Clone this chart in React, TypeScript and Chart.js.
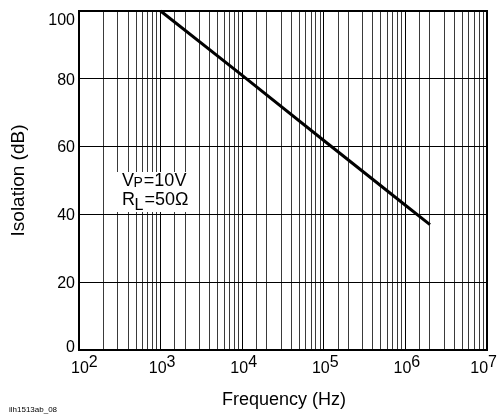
import React, { useEffect, useRef } from "react";
import { Chart, registerables } from "chart.js";

Chart.register(...registerables);

// ---- data ----
const frequencyHz = [1e3, 1e4, 1e5, 1e6, 2e6];
const isolationDb = [100, 81, 61.8, 42.7, 37];
const yTickValues = [0, 20, 40, 60, 80, 100];
const xDecadeExponents = [2, 3, 4, 5, 6, 7];
const xAxisTitle = "Frequency (Hz)";
const yAxisTitle = "Isolation (dB)";
const figureId = "ilh1513ab_08";
const annotationLine1 = { main: "V", sub: "P", rest: "=10V" };
const annotationLine2 = { main: "R", sub: "L", rest: "=50Ω" };

const FONT = '"Liberation Sans", Arial, Helvetica, sans-serif';

const decoratePlugin = {
  id: "decorate",
  beforeDatasetsDraw(chart: any) {
    const { ctx, chartArea } = chart;
    ctx.save();
    // white backing box behind the annotation
    ctx.fillStyle = "#fff";
    ctx.fillRect(chartArea.left + 38, 172, 79, 40);
    ctx.strokeStyle = "#000";
    ctx.lineWidth = 2;
    ctx.strokeRect(
      chartArea.left,
      chartArea.top,
      chartArea.right - chartArea.left,
      chartArea.bottom - chartArea.top
    );
    ctx.restore();
  },
  afterDraw(chart: any) {
    const { ctx, chartArea, scales } = chart;
    const xs = scales.x;
    const ys = scales.y;
    ctx.save();
    ctx.fillStyle = "#000";

    // y tick labels
    ctx.font = `16px ${FONT}`;
    ctx.textAlign = "right";
    ctx.textBaseline = "alphabetic";
    yTickValues.forEach((v) => {
      let cy = ys.getPixelForValue(v);
      cy = Math.max(chartArea.top + 8, Math.min(chartArea.bottom - 4, cy));
      ctx.fillText(String(v), chartArea.left - 4, cy + 5.7);
    });

    // x tick labels 10^n
    ctx.textAlign = "left";
    xDecadeExponents.forEach((e) => {
      const px = xs.getPixelForValue(Math.pow(10, e));
      ctx.font = `16px ${FONT}`;
      const wBase = ctx.measureText("10").width;
      const wSup = ctx.measureText(String(e)).width;
      const w = wBase + wSup;
      let left = px - w / 2 + 1.5;
      left = Math.max(71, Math.min(chart.width - 2 - w, left));
      const base = chartArea.bottom + 23;
      ctx.fillText("10", left, base);
      ctx.fillText(String(e), left + wBase, base - 6);
    });

    // axis titles
    ctx.font = `18px ${FONT}`;
    ctx.textAlign = "center";
    ctx.fillText(xAxisTitle, (chartArea.left + chartArea.right) / 2 + 1, chartArea.bottom + 55);

    ctx.save();
    ctx.font = `19px ${FONT}`;
    ctx.translate(24, (chartArea.top + chartArea.bottom) / 2);
    ctx.rotate(-Math.PI / 2);
    ctx.textAlign = "center";
    ctx.fillText(yAxisTitle, 0, 0);
    ctx.restore();

    // figure id
    ctx.font = `8px ${FONT}`;
    ctx.textAlign = "left";
    ctx.fillText(figureId, 9, 412);

    // annotation
    const ax = chartArea.left + 43;
    const drawLine = (l: any, baseY: number, subSize: number, subDrop: number) => {
      ctx.textAlign = "left";
      ctx.font = `18px ${FONT}`;
      ctx.fillText(l.main, ax, baseY);
      let x = ax + ctx.measureText(l.main).width;
      ctx.font = `${subSize}px ${FONT}`;
      ctx.fillText(l.sub, x - 0.5, baseY + subDrop);
      x += ctx.measureText(l.sub).width;
      ctx.font = `18px ${FONT}`;
      ctx.fillText(l.rest, x + 0.5, baseY);
    };
    drawLine(annotationLine1, 186, 14, 1);
    drawLine(annotationLine2, 205, 16, 5);

    ctx.restore();
  },
};

export default function App() {
  const canvasRef = useRef<HTMLCanvasElement | null>(null);

  useEffect(() => {
    const canvas = canvasRef.current;
    if (!canvas) return;
    const chart = new Chart(canvas, {
      type: "line",
      data: {
        datasets: [
          {
            data: frequencyHz.map((f, i) => ({ x: f, y: isolationDb[i] })),
            borderColor: "#000",
            borderWidth: 3,
            pointRadius: 0,
            fill: false,
            tension: 0,
            clip: false,
          } as any,
        ],
      },
      options: {
        responsive: false,
        animation: false,
        devicePixelRatio: 1,
        layout: { padding: { top: 11, right: 12, left: 0, bottom: 0 } },
        plugins: {
          legend: { display: false },
          tooltip: { enabled: false },
          title: { display: false },
        },
        scales: {
          x: {
            type: "logarithmic",
            min: 100,
            max: 1e7,
            ticks: { display: false, autoSkip: false },
            grid: {
              color: (c: any) => (c.tick && c.tick.major ? "#000" : "#3a3a3a"),
              lineWidth: 1,
              drawTicks: false,
            },
            border: { display: false },
            afterFit: (s: any) => {
              s.height = 64;
            },
          },
          y: {
            type: "linear",
            min: 0,
            max: 100,
            ticks: { display: false, stepSize: 20 },
            grid: { color: "#000", lineWidth: 1, drawTicks: false },
            border: { display: false },
            afterFit: (s: any) => {
              s.width = 79;
            },
          },
        },
      } as any,
      plugins: [decoratePlugin],
    });
    return () => chart.destroy();
  }, []);

  return (
    <div style={{ position: "absolute", left: 0, top: 0, width: 499, height: 414, background: "#fff" }}>
      <canvas ref={canvasRef} width={499} height={414} style={{ width: 499, height: 414, display: "block" }} />
    </div>
  );
}
